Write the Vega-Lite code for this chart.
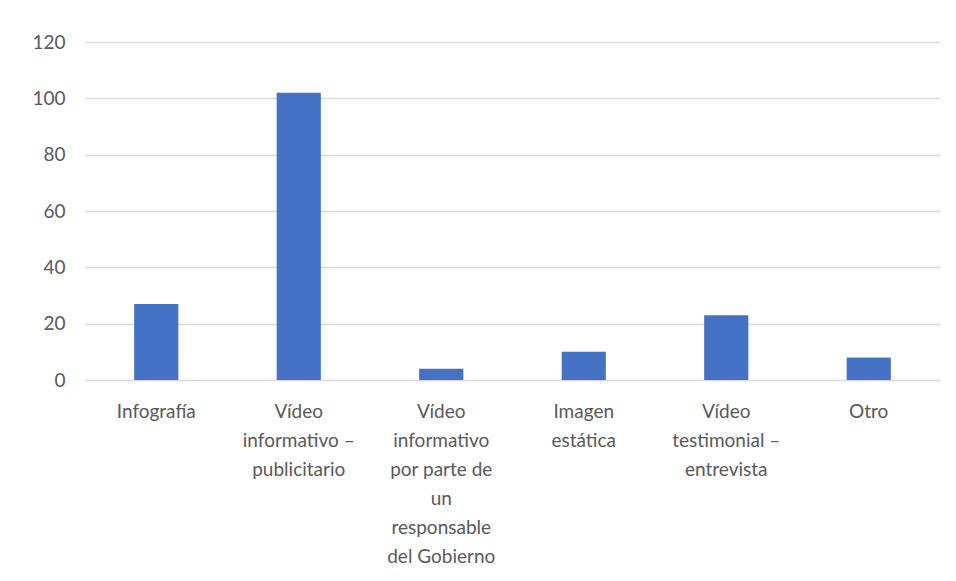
{
  "$schema": "https://vega.github.io/schema/vega-lite/v6.json",
  "autosize": {"type": "none"},
  "width": 855,
  "height": 338,
  "padding": {"left": 85, "top": 42, "right": 16, "bottom": 201},
  "background": "white",
  "data": {
    "values": [
      {"tipo": "Infografía", "n": 27},
      {"tipo": "Vídeo informativo – publicitario", "n": 102},
      {"tipo": "Vídeo informativo por parte de un responsable del Gobierno", "n": 4},
      {"tipo": "Imagen estática", "n": 10},
      {"tipo": "Vídeo testimonial – entrevista", "n": 23},
      {"tipo": "Otro", "n": 8}
    ]
  },
  "mark": {"type": "bar", "color": "#4472C4"},
  "encoding": {
    "x": {
      "field": "tipo",
      "type": "nominal",
      "sort": null,
      "scale": {"paddingInner": 0.69, "paddingOuter": 0.345},
      "axis": {
        "title": null,
        "labelAngle": 0,
        "domain": false,
        "ticks": false,
        "labelPadding": 22,
        "labelFont": "Lato",
        "labelFontSize": 19,
        "labelColor": "#595959",
        "labelLineHeight": 29,
        "labelBaseline": "top",
        "labelLimit": 0,
        "labelExpr": "datum.value == 'Vídeo informativo – publicitario' ? ['Vídeo', 'informativo –', 'publicitario'] : datum.value == 'Vídeo informativo por parte de un responsable del Gobierno' ? ['Vídeo', 'informativo', 'por parte de', 'un', 'responsable', 'del Gobierno'] : datum.value == 'Imagen estática' ? ['Imagen', 'estática'] : datum.value == 'Vídeo testimonial – entrevista' ? ['Vídeo', 'testimonial –', 'entrevista'] : datum.value"
      }
    },
    "y": {
      "field": "n",
      "type": "quantitative",
      "scale": {"domain": [0, 120]},
      "axis": {
        "title": null,
        "values": [0, 20, 40, 60, 80, 100, 120],
        "domain": false,
        "ticks": false,
        "labelPadding": 20,
        "labelFont": "Lato",
        "labelFontSize": 19,
        "labelColor": "#595959",
        "gridColor": "#d9d9d9",
        "gridWidth": 1.5
      }
    }
  },
  "config": {"view": {"stroke": null}}
}
